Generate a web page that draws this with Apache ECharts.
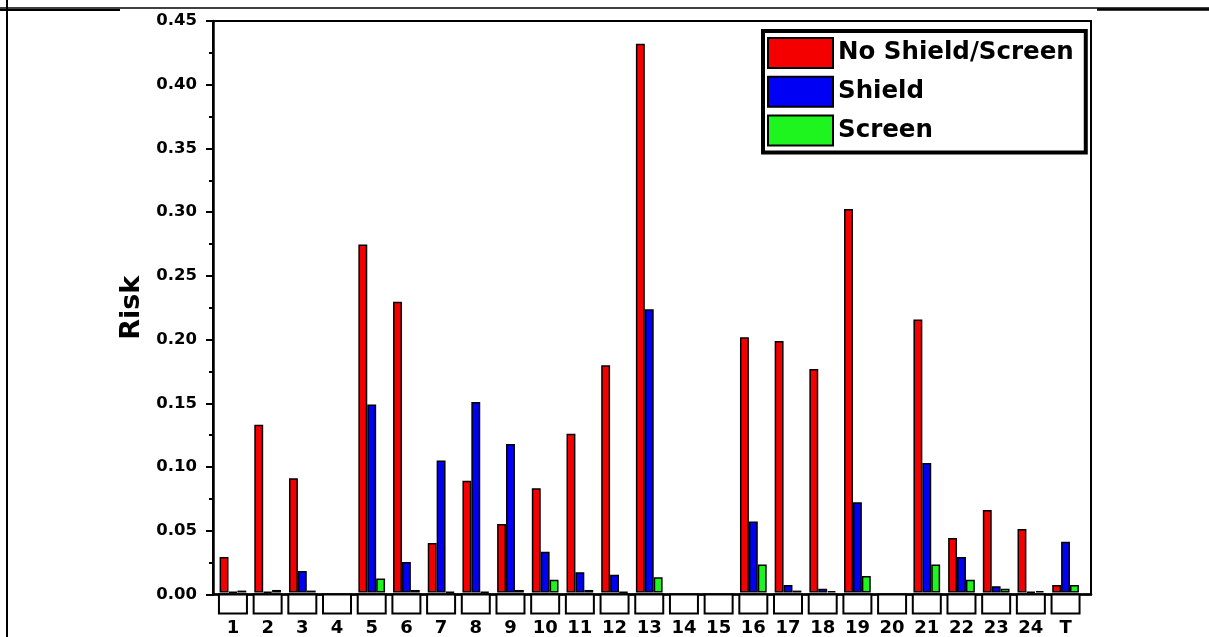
<!DOCTYPE html>
<html>
<head>
<meta charset="utf-8">
<script src="https://cdn.jsdelivr.net/npm/echarts@6/dist/echarts.min.js"></script>
<style>
  html, body { margin: 0; padding: 0; background: #fff; }
  #chart { width: 1209px; height: 637px; }
</style>
</head>
<body>
<div id="chart"></div>
<script>
// Categories on the x axis (sources 1..24 and the total T)
const categories = ['1','2','3','4','5','6','7','8','9','10','11','12','13','14','15','16','17','18','19','20','21','22','23','24','T'];

// Risk per category for each configuration
const noShieldScreen = [0.028, 0.132, 0.090, 0, 0.274, 0.229, 0.039, 0.088, 0.054, 0.082, 0.125, 0.179, 0.432, 0, 0, 0.201, 0.198, 0.176, 0.302, 0, 0.215, 0.043, 0.065, 0.050, 0.006];
const shield         = [0.0005, 0.0005, 0.017, 0, 0.148, 0.024, 0.104, 0.150, 0.117, 0.032, 0.016, 0.014, 0.223, 0, 0, 0.056, 0.006, 0.003, 0.071, 0, 0.102, 0.028, 0.005, 0.0005, 0.040];
const screen         = [0.0015, 0.002, 0.0015, 0, 0.011, 0.002, 0.0004, 0.0005, 0.002, 0.010, 0.002, 0.0003, 0.012, 0, 0, 0.022, 0.0015, 0.001, 0.013, 0, 0.022, 0.010, 0.003, 0.001, 0.006];

// Y axis ticks
const yMin = 0, yMax = 0.45, yStep = 0.05;

const FONT = 'DejaVu Sans';
const PLOT = { left: 213, top: 21, right: 1091, bottom: 594.5 };
const BARS = { left: 215.6, right: 1082.9 };

const chart = echarts.init(document.getElementById('chart'), null, { renderer: 'canvas' });

const barStyle = (color) => ({ color: color, borderColor: '#000', borderWidth: 1.5 });
// a zero risk leaves the slot empty rather than drawing a flat outline
const asBars = (values) => values.map((v) => (v === 0 ? '-' : v));

const option = {
  animation: false,
  backgroundColor: '#fff',
  textStyle: { fontFamily: FONT },
  grid: [
    { // frame + y axis
      left: PLOT.left, top: PLOT.top,
      width: PLOT.right - PLOT.left, height: PLOT.bottom - PLOT.top,
      show: true, borderColor: '#000', borderWidth: 2, backgroundColor: 'transparent'
    },
    { // bars, with a little padding inside the frame
      left: BARS.left, top: PLOT.top,
      width: BARS.right - BARS.left, height: PLOT.bottom - PLOT.top
    }
  ],
  xAxis: [
    {
      gridIndex: 0, type: 'value', min: 0, max: 1,
      axisLine: { show: true, lineStyle: { color: '#000', width: 2.5 } },
      axisTick: { show: false }, axisLabel: { show: false }, splitLine: { show: false }
    },
    {
      gridIndex: 1, type: 'category', data: categories,
      axisLine: { show: false }, axisTick: { show: false }, splitLine: { show: false },
      axisLabel: {
        interval: 0, margin: 3,
        formatter: (v) => '{box| }\n{num|' + v + '}',
        rich: {
          box: { width: 26, height: 17, lineHeight: 17, borderColor: '#000', borderWidth: 2, backgroundColor: '#fff' },
          num: { fontFamily: FONT, fontWeight: 'bold', fontSize: 18, color: '#000', lineHeight: 31 }
        }
      }
    }
  ],
  yAxis: [
    {
      gridIndex: 0, type: 'value', min: yMin, max: yMax, interval: yStep,
      name: 'Risk', nameLocation: 'middle', nameGap: 62, nameRotate: 90,
      nameTextStyle: { fontFamily: FONT, fontWeight: 'bold', fontSize: 27, color: '#000' },
      axisLine: { show: true, lineStyle: { color: '#000', width: 2.5 } },
      axisTick: { show: true, inside: false, length: 7, lineStyle: { color: '#000', width: 2 } },
      minorTick: { show: true, splitNumber: 2, length: 4, lineStyle: { color: '#000', width: 2 } },
      axisLabel: {
        margin: 16, fontFamily: FONT, fontWeight: 'bold', fontSize: 16.5, color: '#000',
        formatter: (v) => v.toFixed(2)
      },
      splitLine: { show: false }
    },
    {
      gridIndex: 1, type: 'value', min: yMin, max: yMax, interval: yStep, show: false
    }
  ],
  legend: {
    orient: 'vertical', left: 763, top: 31,
    padding: [6, 12, 6, 4], itemGap: 6.7, itemWidth: 65, itemHeight: 30,
    backgroundColor: '#fff', borderColor: '#000', borderWidth: 4, borderRadius: 0,
    selectedMode: false, icon: 'rect',
    itemStyle: { borderColor: '#000', borderWidth: 2 },
    textStyle: { fontFamily: FONT, fontWeight: 'bold', fontSize: 24.5, color: '#000' },
    data: ['No Shield/Screen', 'Shield', 'Screen']
  },
  series: [
    { name: 'No Shield/Screen', type: 'bar', xAxisIndex: 1, yAxisIndex: 1, data: asBars(noShieldScreen),
      barWidth: 8.9, barGap: '0%', itemStyle: barStyle('#f40000') },
    { name: 'Shield', type: 'bar', xAxisIndex: 1, yAxisIndex: 1, data: asBars(shield),
      barWidth: 8.9, barGap: '0%', itemStyle: barStyle('#0000f4') },
    { name: 'Screen', type: 'bar', xAxisIndex: 1, yAxisIndex: 1, data: asBars(screen),
      barWidth: 8.9, barGap: '0%', itemStyle: barStyle('#1ef51e') }
  ],
  graphic: [
    // page ruling around the figure
    { type: 'line', shape: { x1: 0, y1: 8, x2: 1209, y2: 8 }, style: { stroke: '#000', lineWidth: 1.5 } },
    { type: 'line', shape: { x1: 0, y1: 10, x2: 120, y2: 10 }, style: { stroke: '#000', lineWidth: 2 } },
    { type: 'line', shape: { x1: 1097, y1: 9.5, x2: 1209, y2: 9.5 }, style: { stroke: '#000', lineWidth: 2.5 } },
    { type: 'line', shape: { x1: 7, y1: 0, x2: 7, y2: 637 }, style: { stroke: '#000', lineWidth: 2 } }
  ]
};

chart.setOption(option);
</script>
</body>
</html>
